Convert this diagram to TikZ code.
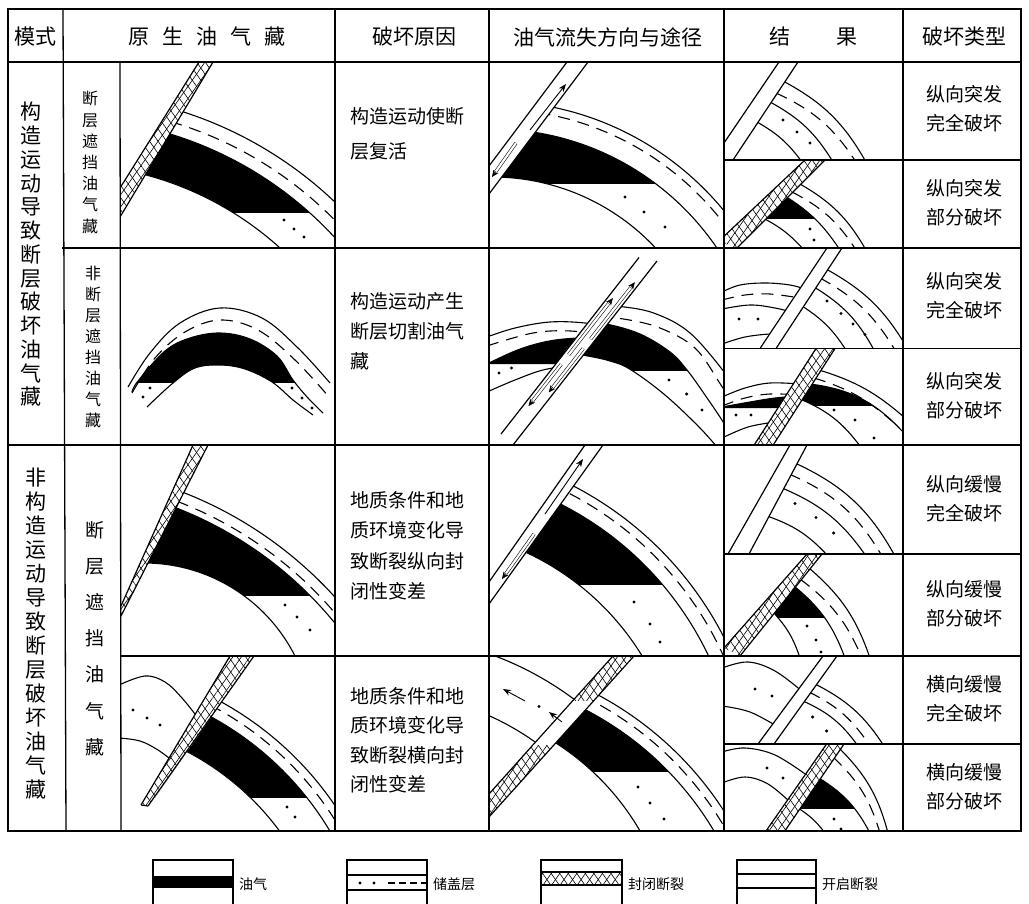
\documentclass[tikz,border=0pt]{standalone}
\usepackage{fontspec}
\setmainfont{Noto Sans CJK SC}
\usetikzlibrary{calc,patterns.meta,arrows.meta}

\tikzset{
  frame/.style={line width=1.8pt},
  rule/.style={line width=1.3pt},
  lyr/.style={line width=1.1pt},
  dsh/.style={line width=1.1pt, dash pattern=on 12pt off 8pt},
  flt/.style={line width=1.2pt},
  hatchA/.style={pattern={Lines[angle=55,distance=7pt,line width=0.6pt]}},
  hatchB/.style={pattern={Lines[angle=-55,distance=7pt,line width=0.6pt]}},
  flow/.style={line width=0.9pt,-{Stealth[length=8pt,width=6pt]}},
  tube/.style={line width=0.55pt,double distance=2.2pt},
  hdr/.style={font=\fontsize{21}{24}\selectfont, inner sep=0pt},
  txt/.style={font=\fontsize{19}{22}\selectfont, inner sep=0pt, anchor=west},
  kind/.style={font=\fontsize{19}{29}\selectfont, inner sep=0pt, align=center},
  legtxt/.style={font=\fontsize{14}{16}\selectfont, inner sep=0pt, anchor=west},
}
% a dot of the reservoir pattern
\newcommand\resdot[1]{\fill #1 circle[radius=1.7pt];}
% sealed (closed) fault band: corners left-bottom, left-top, right-top, right-bottom
\newcommand\sealband[4]{%
  \fill[white] #1--#2--#3--#4--cycle;
  \fill[hatchA] #1--#2--#3--#4--cycle;
  \fill[hatchB] #1--#2--#3--#4--cycle;
  \draw[flt] #1--#2 #3--#4;}
% open fault band
\newcommand\openband[4]{%
  \fill[white] #1--#2--#3--#4--cycle;
  \draw[flt] #1--#2 #3--#4;}
% hollow arrow running inside an open fault
\newcommand\tubearrow[2]{%
  \draw[tube,shorten >=5pt] #1 -- #2;
  \draw[line width=0.55pt,-{Stealth[length=7pt,width=6pt]}] ($#2!7pt!#1$) -- #2;}

\begin{document}
\begin{tikzpicture}[x=1pt,y=-1pt]
\useasboundingbox (0,0) rectangle (1029,904);
\fill[white] (0,0) rectangle (1029,904);

%================ primary reservoirs =================
% row 1: fault-sealed trap
\begin{scope}
  \clip (120,62) rectangle (335,248);
  \begin{scope}
    \clip (213,62) -- (335,62) -- (335,248) -- (120,248) -- (120,217) -- cycle;
    \begin{scope}
      \clip (0,0) rectangle (1029,213);
      \fill (62,489) circle[radius=371pt];
      \fill[white] (62,489) circle[radius=325pt];
    \end{scope}
    \draw[lyr] (62,489) circle[radius=396pt] circle[radius=371pt] circle[radius=325pt];
    \draw[dsh] (62,489) circle[radius=383pt];
    \resdot{(284,220)}\resdot{(294,229)}\resdot{(304,237)}
  \end{scope}
  \sealband{(120,188)}{(199,62)}{(213,62)}{(120,217)}
\end{scope}

% row 2: anticline
\begin{scope}
  \clip (120,248) rectangle (335,445);
  \begin{scope}
    \clip (0,0) rectangle (1029,382);
    \fill plot[smooth,tension=0.6] coordinates {(132,392) (138,381) (165,351) (190,338) (220,333) (250,339) (277,356) (293,380) (308,398) (323,413)}
      -- plot[smooth,tension=0.6] coordinates {(313,415) (293,400) (272,382) (245,369) (220,365) (195,368) (173,383) (147,407)} -- cycle;
  \end{scope}
  \draw[lyr] plot[smooth,tension=0.6] coordinates {(128,387) (150,353) (180,323) (220,308) (262,318) (298,348) (330,383)};
  \draw[dsh] plot[smooth,tension=0.6] coordinates {(132,393) (155,358) (185,332) (220,320) (258,330) (295,360) (330,398)};
  \draw[lyr] plot[smooth,tension=0.6] coordinates {(132,392) (138,381) (165,351) (190,338) (220,333) (250,339) (277,356) (293,380) (308,398) (323,413)};
  \draw[lyr] plot[smooth,tension=0.6] coordinates {(147,407) (173,383) (195,368) (220,365) (245,369) (272,382) (293,400) (313,415)};
  \draw[lyr] (138,382) -- (173,382) (272,382) -- (293,382);
  \resdot{(143,397)}\resdot{(150,388)}\resdot{(292,388)}\resdot{(302,398)}\resdot{(312,408)}
\end{scope}

% row 3: fault-sealed trap
\begin{scope}
  \clip (121,445) rectangle (335,656);
  \begin{scope}
    \clip (208,445) -- (335,445) -- (335,656) -- (121,656) -- (121,616) -- cycle;
    \begin{scope}
      \clip (0,0) rectangle (1029,595);
      \fill (37,867) circle[radius=385pt];
      \fill[white] (144,732) circle[radius=169pt];
    \end{scope}
    \draw[lyr] (37,867) circle[radius=402pt] circle[radius=385pt] (144,732) circle[radius=169pt];
    \draw[dsh] (37,867) circle[radius=391.5pt];
    \resdot{(285,605)}\resdot{(297,617)}\resdot{(310,630)}
  \end{scope}
  \sealband{(121,606)}{(193,445)}{(208,445)}{(121,616)}
\end{scope}

% row 4: fault-sealed trap with displaced footwall
\begin{scope}
  \clip (121,656) rectangle (335,831);
  \begin{scope}
    \clip (121,656) -- (231,656) -- (124,831) -- (121,831) -- cycle;
    \draw[lyr] plot[smooth,tension=0.6] coordinates {(119,685) (145,676) (165,682) (182,698) (198,718)};
    \draw[lyr] plot[smooth,tension=0.6] coordinates {(119,738) (140,741) (158,750) (174,762)};
    \resdot{(133,710)}\resdot{(147,718)}\resdot{(160,725)}
  \end{scope}
  \begin{scope}
    \clip (254,656) -- (335,656) -- (335,831) -- (132,831) -- cycle;
    \begin{scope}
      \clip (0,0) rectangle (1029,797);
      \fill (62,991) circle[radius=312pt];
      \fill[white] (62,991) circle[radius=270pt];
    \end{scope}
    \draw[lyr] (62,991) circle[radius=330pt] circle[radius=312pt] circle[radius=270pt];
    \draw[dsh] (62,991) circle[radius=322pt];
    \resdot{(287,807)}\resdot{(295,817)}
  \end{scope}
  \sealband{(141,805)}{(230,656)}{(254,656)}{(148,806)}
  \draw[flt] (141,805) -- (148,806);
\end{scope}

%================ loss direction and path =================
% row 1
\begin{scope}
  \clip (489,62) rectangle (724,248);
  \begin{scope}
    \clip (588,62) -- (724,62) -- (724,248) -- (489,248) -- (489,194) -- cycle;
    \begin{scope}
      \clip (0,0) rectangle (1029,184);
      \fill (492,401) circle[radius=272pt];
      \fill[white] (492,401) circle[radius=224pt];
    \end{scope}
    \draw[lyr] (492,401) circle[radius=300pt] circle[radius=272pt] circle[radius=224pt];
    \draw[dsh] (492,401) circle[radius=292pt];
    \resdot{(625,197)}\resdot{(644,212)}\resdot{(665,227)}
  \end{scope}
  \openband{(489,166)}{(567,62)}{(588,62)}{(489,194)}
  \draw[flow] (530,130) -- (566,84);
  \tubearrow{(516,143)}{(492,177)}
\end{scope}

% row 2
\begin{scope}
  \clip (489,248) rectangle (724,445);
  \begin{scope}
    \clip (489,248) -- (646,248) -- (492,445) -- (489,445) -- cycle;
    \fill plot[smooth,tension=0.6] coordinates {(487,364) (515,351) (540,343) (564,339) (600,337)} -- (600,364) -- cycle;
    \draw[lyr] plot[smooth,tension=0.6] coordinates {(487,337) (515,328) (550,322) (585,323) (610,328)};
    \draw[dsh] plot[smooth,tension=0.6] coordinates {(487,346) (533,333) (571,331) (605,336)};
    \draw[lyr] plot[smooth,tension=0.6] coordinates {(487,364) (515,351) (540,343) (564,339) (600,337)};
    \draw[lyr] plot[smooth,tension=0.6] coordinates {(487,392) (515,380) (545,369.5) (580,365)};
    \resdot{(499,373)}\resdot{(511.5,368)}
  \end{scope}
  \begin{scope}
    \clip (667,248) -- (724,248) -- (724,445) -- (513,445) -- cycle;
    \begin{scope}
      \clip (0,0) rectangle (1029,370);
      \fill plot[smooth,tension=0.6] coordinates {(580,322) (606,324) (640,334) (670,352) (687,370) (705,395)}
        -- plot[smooth,tension=0.6] coordinates {(665,395) (630.6,369.6) (610,361) (585,355.5) (560,352)} -- cycle;
    \end{scope}
    \draw[lyr] plot[smooth,tension=0.6] coordinates {(590,306) (620,306.5) (655,313.5) (690,333) (725,373) (735,390)};
    \draw[dsh] plot[smooth,tension=0.6] coordinates {(600,318) (623.5,319) (660,328) (695,348) (720,383.5) (730,400)};
    \draw[lyr] plot[smooth,tension=0.6] coordinates {(580,322) (606,324) (640,334) (670,352) (687,370) (705,395) (725,425) (735,445)};
    \draw[lyr] plot[smooth,tension=0.6] coordinates {(560,352) (585,355.5) (610,361) (630.6,369.6) (665,395) (700,428) (722,453)};
    \resdot{(669,380)}\resdot{(686.6,394)}\resdot{(702,410)}
  \end{scope}
  \openband{(501,434)}{(639,257.5)}{(657,261)}{(513,445)}
  \tubearrow{(561.2,364.3)}{(528.5,406.1)}
  \tubearrow{(568.6,354.8)}{(612.9,298.1)}
  \tubearrow{(583.2,348.4)}{(548.7,392.5)}
  \tubearrow{(590.6,339)}{(634.9,282.2)}
\end{scope}

% row 3
\begin{scope}
  \clip (489,445) rectangle (724,656);
  \begin{scope}
    \clip (603,445) -- (724,445) -- (724,656) -- (489,656) -- (489,604) -- cycle;
    \begin{scope}
      \clip (0,0) rectangle (1029,584);
      \fill (413,796) circle[radius=327pt];
      \fill[white] (413,796) circle[radius=268.5pt];
    \end{scope}
    \draw[lyr] (413,796) circle[radius=349pt] circle[radius=327pt] circle[radius=268.5pt];
    \draw[dsh] (413,796) circle[radius=340.5pt];
    \resdot{(634,602)}\resdot{(650,624)}\resdot{(660,642)}
  \end{scope}
  \openband{(489,582)}{(585,445)}{(603,445)}{(489,604)}
  \draw[flow] (545,514) -- (583,459);
  \tubearrow{(534,534)}{(502,579)}
\end{scope}

% row 4
\begin{scope}
  \clip (489,656) rectangle (724,831);
  \begin{scope}
    \clip (489,656) -- (613,656) -- (489,794) -- cycle;
    \draw[lyr] (380,960) circle[radius=325pt] circle[radius=267.5pt];
    \resdot{(539,706.5)}
  \end{scope}
  \begin{scope}
    \clip (634,656) -- (724,656) -- (724,831) -- (489,831) -- (489,817) -- cycle;
    \begin{scope}
      \clip (0,0) rectangle (1029,771);
      \fill (438,995) circle[radius=321pt];
      \fill[white] (416,961) circle[radius=259pt];
    \end{scope}
    \draw[lyr] (438,995) circle[radius=340pt] circle[radius=321pt] (416,961) circle[radius=259pt];
    \draw[dsh] (438,995) circle[radius=332pt];
    \resdot{(638,787)}\resdot{(650,803)}\resdot{(664,819)}
  \end{scope}
  \sealband{(572.5,701)}{(613,656)}{(634,656)}{(593.5,701)}
  \openband{(532.9,745)}{(572.5,701)}{(593.5,701)}{(553.9,745)}
  \sealband{(489,794)}{(532.9,745)}{(553.9,745)}{(489,817)}
  \draw[flow] (525,701) -- (503,689);
  \draw[flow] (562,722) -- (549,712);
\end{scope}

%================ results =================
% row 1, sudden complete
\begin{scope}
  \clip (724,62) rectangle (903,160);
  \begin{scope}
    \clip (798,62) -- (903,62) -- (903,160) -- (733,160) -- cycle;
    \draw[lyr] (783,81) to[bend left=16] (866,162);
    \draw[dsh] (776,93) to[bend left=16] (856,162);
    \draw[lyr] (770,102) to[bend left=15] (833,162);
    \draw[lyr] (757,122) to[bend left=12] (802,162);
    \resdot{(783,120)}\resdot{(797,132)}\resdot{(810,143)}
  \end{scope}
  \openband{(724,143)}{(779,62)}{(798,62)}{(733,160)}
\end{scope}
% row 1, sudden partial
\begin{scope}
  \clip (724,160) rectangle (903,248);
  \begin{scope}
    \clip (825,160) -- (903,160) -- (903,248) -- (737,248) -- cycle;
    \begin{scope}
      \clip (0,0) rectangle (1029,219);
      \fill (785,196) to[bend left=12] (840,250) -- (804,250) to[bend right=10] (763,218) -- cycle;
    \end{scope}
    \draw[lyr] (800,184) to[bend left=15] (866,250);
    \draw[dsh] (792,192) to[bend left=15] (856,250);
    \draw[lyr] (785,196) to[bend left=12] (840,250);
    \draw[lyr] (763,218) to[bend left=10] (804,250);
    \resdot{(810,229)}\resdot{(814,240)}
  \end{scope}
  \sealband{(720,240)}{(805,160)}{(825,160)}{(735,250)}
\end{scope}
% row 2, sudden complete
\begin{scope}
  \clip (724,248) rectangle (903,348.5);
  \begin{scope}
    \clip (724,248) -- (827,248) -- (760,348.5) -- (724,348.5) -- cycle;
    \draw[lyr] plot[smooth,tension=0.6] coordinates {(722,292) (740,285) (765,283) (790,285) (808,290)};
    \draw[dsh] plot[smooth,tension=0.6] coordinates {(722,300) (745,295) (770,294) (800,298)};
    \draw[lyr] plot[smooth,tension=0.6] coordinates {(722,309) (750,305) (775,308) (795,313)};
    \draw[lyr] plot[smooth,tension=0.6] coordinates {(722,344) (745,337) (770,334) (780,335)};
    \resdot{(739,319)}\resdot{(758,319)}
  \end{scope}
  \begin{scope}
    \clip (842,248) -- (903,248) -- (903,348.5) -- (776,348.5) -- cycle;
    \draw[lyr] (826,269) to[bend left=15] (906,346);
    \draw[dsh] (820,278) to[bend left=15] (895,350);
    \draw[lyr] (814,287) to[bend left=15] (874,350);
    \draw[lyr] (802,306) to[bend left=12] (846,350);
    \resdot{(827,301)}\resdot{(841,313.5)}\resdot{(853,324)}\resdot{(865,334.5)}
  \end{scope}
  \openband{(760,348.5)}{(827,248)}{(842,248)}{(776,348.5)}
\end{scope}
% row 2, sudden partial
\begin{scope}
  \clip (724,348.5) rectangle (903,445);
  \begin{scope}
    \clip (724,348.5) -- (816,348.5) -- (751,450) -- (724,450) -- cycle;
    \fill plot[smooth,tension=0.6] coordinates {(722,407) (750,402) (775,398) (800,396)} -- (800,408) -- (722,408) -- cycle;
    \draw[lyr] plot[smooth,tension=0.6] coordinates {(722,397) (745,388) (770,383) (800,384)};
    \draw[dsh] plot[smooth,tension=0.6] coordinates {(722,406) (745,398) (770,394) (800,395)};
    \draw[lyr] plot[smooth,tension=0.6] coordinates {(722,407) (750,402) (775,398) (800,396)};
    \draw[lyr] plot[smooth,tension=0.6] coordinates {(722,438) (748,427) (775,422)};
    \resdot{(736,415)}\resdot{(751,415)}
  \end{scope}
  \begin{scope}
    \clip (835,348.5) -- (903,348.5) -- (903,445) -- (770,450) -- cycle;
    \begin{scope}
      \clip (0,0) rectangle (1029,405);
      \fill (810,384) to[bend left=20] (903,432) -- (860,446) to[bend right=15] (800,399) -- cycle;
    \end{scope}
    \draw[lyr] (819,370) to[bend left=12] (905,418);
    \draw[dsh] (814,378) to[bend left=12] (893,422);
    \draw[lyr] (810,384) to[bend left=20] (903,432);
    \draw[lyr] (800,399) to[bend left=15] (860,446);
    \resdot{(834,410)}\resdot{(855,420)}\resdot{(874,438)}
  \end{scope}
  \sealband{(751,450)}{(816,348.5)}{(835,348.5)}{(770,450)}
\end{scope}
% row 3, slow complete
\begin{scope}
  \clip (724,445) rectangle (903,554);
  \begin{scope}
    \clip (807,445) -- (903,445) -- (903,554) -- (749,554) -- cycle;
    \draw[lyr] (795,463) to[bend left=18] (895,556);
    \draw[dsh] (789,474) to[bend left=18] (882,556);
    \draw[lyr] (782,488) to[bend left=16] (866,556);
    \draw[lyr] (767,516) to[bend left=14] (828,556);
    \resdot{(795,503.5)}\resdot{(816,517.5)}\resdot{(833.6,533)}
  \end{scope}
  \openband{(728,554)}{(790,445)}{(807,445)}{(749,554)}
\end{scope}
% row 3, slow partial
\begin{scope}
  \clip (724,554) rectangle (903,656);
  \begin{scope}
    \clip (822,554) -- (903,554) -- (903,656) -- (740,656) -- cycle;
    \begin{scope}
      \clip (0,0) rectangle (1029,617);
      \fill (794,586) to[bend left=15] (845,658) -- (800,658) to[bend right=12] (773,612) -- cycle;
    \end{scope}
    \draw[lyr] (809,568) to[bend left=15] (870,658);
    \draw[dsh] (800,579) to[bend left=15] (862,658);
    \draw[lyr] (794,586) to[bend left=15] (845,658);
    \draw[lyr] (773,612) to[bend left=12] (800,658);
    \resdot{(807,626)}\resdot{(816,640)}\resdot{(821,652)}
  \end{scope}
  \sealband{(724,648)}{(807,554)}{(822,554)}{(740,656)}
\end{scope}
% row 4, lateral slow complete
\begin{scope}
  \clip (724,656) rectangle (903,744);
  \begin{scope}
    \clip (724,656) -- (823,656) -- (758,744) -- (724,744) -- cycle;
    \draw[lyr] plot[smooth,tension=0.6] coordinates {(722,668) (748,662) (775,671) (803,692)};
    \draw[lyr] plot[smooth,tension=0.6] coordinates {(722,706) (750,712) (780,728)};
    \resdot{(755,689)}\resdot{(772,696)}
  \end{scope}
  \begin{scope}
    \clip (837,656) -- (903,656) -- (903,744) -- (774,744) -- cycle;
    \draw[lyr] (815,684) to[bend left=15] (884,746);
    \draw[dsh] (809,692) to[bend left=15] (870,746);
    \draw[lyr] (803,701) to[bend left=15] (858,746);
    \resdot{(812.6,717)}\resdot{(826.6,731)}
  \end{scope}
  \openband{(758,744)}{(823,656)}{(837,656)}{(774,744)}
\end{scope}
% row 4, lateral slow partial
\begin{scope}
  \clip (724,744) rectangle (903,831);
  \begin{scope}
    \clip (724,744) -- (826.6,744) -- (760,839.6) -- (724,839.6) -- cycle;
    \draw[lyr] plot[smooth,tension=0.6] coordinates {(722,752) (745,748) (775,755) (808,776)};
    \draw[lyr] plot[smooth,tension=0.6] coordinates {(722,783) (745,777) (768,784) (790,802)};
    \resdot{(767,768)}\resdot{(783,778)}
  \end{scope}
  \begin{scope}
    \clip (844,744) -- (903,744) -- (903,835) -- (779,839.6) -- cycle;
    \begin{scope}
      \clip (0,0) rectangle (1029,808);
      \fill (819,778) to[bend left=15] (870,833) -- (825,833) to[bend right=10] (798,808) -- cycle;
    \end{scope}
    \draw[lyr] (839,748) to[bend left=15] (888,833);
    \draw[dsh] (833,757) to[bend left=15] (880,833);
    \draw[lyr] (819,778) to[bend left=15] (870,833);
    \draw[lyr] (798,808) to[bend left=10] (825,833);
    \resdot{(834,819)}\resdot{(841,829)}
  \end{scope}
  \sealband{(760,839.6)}{(826.6,744)}{(844,744)}{(779,839.6)}
\end{scope}

%================ table rules =================
\draw[frame] (8,9) rectangle (1021,831);
\draw[rule] (8,62) -- (1021,62);
\draw[rule] (62,248) -- (1021,248);
\draw[rule] (8,445) -- (1021,445);
\draw[rule] (121,656) -- (1021,656);
\foreach \yy in {160,348.5,554,744} \draw[rule] (724,\yy) -- (1021,\yy);
\draw[rule] (63,9) -- (66,831);
\draw[rule] (120,62) -- (121,831);
\draw[rule] (335,9) -- (335,831);
\draw[rule] (489,9) -- (489,831);
\draw[rule] (724,9) -- (724,831);
\draw[rule] (903,9) -- (903,831);

%================ header =================
\node[hdr] (h1) at (35,37) {模式};
\node[hdr] (h2) at (207,37) {原\hspace{13pt}生\hspace{13pt}油\hspace{13pt}气\hspace{13pt}藏};
\node[hdr] (h3) at (414,37) {破坏原因};
\node[hdr] (h4) at (608,37) {油气流失方向与途径};
\node[hdr] (h5a) at (780,37) {结};
\node[hdr] (h5b) at (847,37) {果};
\node[hdr] (h6) at (964,37) {破坏类型};

%================ side labels =================
\node[font=\fontsize{21}{23.75}\selectfont, inner sep=0pt, align=center] (m1) at (31,254.5)
  {构\\造\\运\\动\\导\\致\\断\\层\\破\\坏\\油\\气\\藏};
\node[font=\fontsize{21}{24}\selectfont, inner sep=0pt, align=center] (m2) at (36,634)
  {非\\构\\造\\运\\动\\导\\致\\断\\层\\破\\坏\\油\\气\\藏};
\node[font=\fontsize{16}{21.2}\selectfont, inner sep=0pt, align=center] (s1) at (90,162.5)
  {断\\层\\遮\\挡\\油\\气\\藏};
\node[font=\fontsize{16}{21}\selectfont, inner sep=0pt, align=center] (s2) at (93,346.5)
  {非\\断\\层\\遮\\挡\\油\\气\\藏};
\node[font=\fontsize{19}{36.2}\selectfont, inner sep=0pt, align=center] (s3) at (95,638.5)
  {断\\层\\遮\\挡\\油\\气\\藏};

%================ causes =================
\node[txt] (c1a) at (350,116) {构造运动使断};
\node[txt] (c1b) at (350,151) {层复活};
\node[txt] (c2a) at (350,301) {构造运动产生};
\node[txt] (c2b) at (350,331) {断层切割油气};
\node[txt] (c2c) at (350,361) {藏};
\node[txt] (c3a) at (350,500) {地质条件和地};
\node[txt] (c3b) at (350,530) {质环境变化导};
\node[txt] (c3c) at (350,561) {致断裂纵向封};
\node[txt] (c3d) at (350,591) {闭性变差};
\node[txt] (c4a) at (350,696) {地质条件和地};
\node[txt] (c4b) at (350,725.5) {质环境变化导};
\node[txt] (c4c) at (350,755) {致断裂横向封};
\node[txt] (c4d) at (350,784.5) {闭性变差};

%================ damage types =================
\node[kind] (k1) at (964,109) {纵向突发\\完全破坏};
\node[kind] (k2) at (964,203) {纵向突发\\部分破坏};
\node[kind] (k3) at (964,296) {纵向突发\\完全破坏};
\node[kind] (k4) at (964,396) {纵向突发\\部分破坏};
\node[kind] (k5) at (964,499) {纵向缓慢\\完全破坏};
\node[kind] (k6) at (964,604) {纵向缓慢\\部分破坏};
\node[kind] (k7) at (964,699) {横向缓慢\\完全破坏};
\node[kind] (k8) at (964,787) {横向缓慢\\部分破坏};

%================ legend =================
% oil and gas
\fill (153,876) rectangle (233,888);
\draw[rule] (153,904) -- (153,860) -- (233,860) -- (233,904);
\node[legtxt] (l1) at (239,884) {油气};
% reservoir and cap
\draw[rule] (347,904) -- (347,860) -- (427,860) -- (427,904);
\draw[lyr] (347,875) -- (427,875) (347,890) -- (427,890);
\resdot{(360,883)}\resdot{(374,883)}
\draw[lyr, dash pattern=on 7pt off 4pt] (388,883) -- (427,883);
\node[legtxt] (l2) at (433,884) {储盖层};
% sealed fault
\fill[hatchA] (541,872) rectangle (622,885);
\fill[hatchB] (541,872) rectangle (622,885);
\draw[rule] (541,904) -- (541,860) -- (622,860) -- (622,904);
\draw[lyr] (541,872) -- (622,872) (541,885) -- (622,885);
\node[legtxt] (l3) at (628,884) {封闭断裂};
% open fault
\draw[rule] (737,904) -- (737,860) -- (816,860) -- (816,904);
\draw[lyr] (737,874) -- (816,874) (737,888) -- (816,888);
\node[legtxt] (l4) at (822,884) {开启断裂};
\end{tikzpicture}
\end{document}
